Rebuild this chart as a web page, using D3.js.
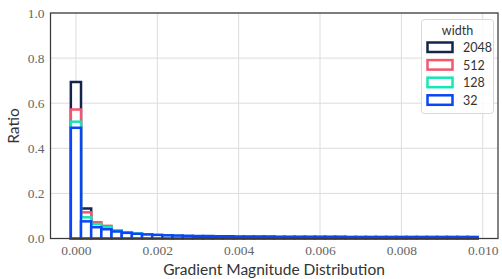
<!DOCTYPE html>
<html><head><meta charset="utf-8">
<script src="https://cdn.jsdelivr.net/npm/d3@7"></script>
<style>body{margin:0;background:#fff}svg{display:block}
.tk text{font-family:"Liberation Serif","DejaVu Serif",serif !important;}
</style>
</head><body>
<svg id="c" width="502" height="279"></svg>
<script>
// bins: 40 bins of width 0.00025 centered on 0, 0.00025, ...
const binWidth = 0.00025;
const binCenters = d3.range(40).map(i => +(i * binWidth).toFixed(6));
const seriesNames = ["2048", "512", "128", "32"];
const colors = ["#14244b", "#f5566c", "#14e6b4", "#0a46f5"];
const w2048 = [0.694,0.133,0.064,0.042,0.026,0.016,0.011,0.008,0.006,0.005,0.004,0.003,0.003,0.002,0.002,0.002,0.002,0.001,0.001,0.001,0.001,0.001,0.001,0.001,0.001,0.001,0.001,0.001,0.001,0.001,0.001,0.001,0.001,0.001,0.001,0.001,0.001,0.001,0.001,0.001];
const w512  = [0.572,0.116,0.072,0.056,0.036,0.026,0.019,0.014,0.011,0.009,0.007,0.006,0.005,0.005,0.004,0.004,0.003,0.003,0.003,0.003,0.002,0.002,0.002,0.002,0.002,0.002,0.002,0.002,0.002,0.002,0.002,0.002,0.002,0.002,0.002,0.002,0.002,0.002,0.002,0.002];
const w128  = [0.518,0.094,0.064,0.050,0.036,0.028,0.022,0.018,0.015,0.013,0.011,0.010,0.009,0.008,0.007,0.007,0.006,0.006,0.005,0.005,0.005,0.005,0.004,0.004,0.004,0.004,0.004,0.004,0.004,0.003,0.003,0.003,0.003,0.003,0.003,0.003,0.003,0.003,0.003,0.003];
const w32   = [0.491,0.076,0.050,0.041,0.031,0.025,0.021,0.018,0.016,0.014,0.013,0.012,0.011,0.011,0.010,0.010,0.009,0.009,0.009,0.009,0.008,0.008,0.008,0.008,0.008,0.008,0.008,0.007,0.007,0.007,0.007,0.007,0.007,0.007,0.007,0.007,0.007,0.007,0.007,0.007];
const seriesValues = [w2048, w512, w128, w32];
const xTicks = [0, 0.002, 0.004, 0.006, 0.008, 0.010];
const yTicks = [0, 0.2, 0.4, 0.6, 0.8, 1.0];

const svg = d3.select("#c");
const L = 50.5, R = 498, T = 13, B = 238.5;
const x = d3.scaleLinear().domain([-0.000625, 0.010375]).range([L, R]);
const y = d3.scaleLinear().domain([0, 1]).range([B, T]);

// grid
const g = svg.append("g");
g.selectAll(".gx").data(xTicks).join("line")
  .attr("x1", d => x(d)).attr("x2", d => x(d)).attr("y1", T).attr("y2", B)
  .attr("stroke", "#dcdcdc").attr("stroke-width", 1);
g.selectAll(".gy").data(yTicks).join("line")
  .attr("y1", d => y(d)).attr("y2", d => y(d)).attr("x1", L).attr("x2", R)
  .attr("stroke", "#dcdcdc").attr("stroke-width", 1);

// bars
seriesValues.forEach((vals, si) => {
  svg.append("g").selectAll("rect").data(vals).join("rect")
    .attr("x", (d, i) => x(binCenters[i] - binWidth / 2))
    .attr("width", (d, i) => x(binCenters[i] + binWidth / 2) - x(binCenters[i] - binWidth / 2))
    .attr("y", d => y(d))
    .attr("height", d => y(0) - y(d))
    .attr("fill", "#fff")
    .attr("stroke", colors[si])
    .attr("stroke-width", 2.5);
});

// spines
svg.append("rect").attr("x", L).attr("y", T).attr("width", R - L).attr("height", B - T)
  .attr("fill", "none").attr("stroke", "#3a3a3a").attr("stroke-width", 1.25);

// x axis
const xAxis = d3.axisBottom(x).tickValues(xTicks).tickFormat(d3.format(".3f")).tickSize(0).tickPadding(7);
const xa = svg.append("g").attr("class", "tk").attr("transform", `translate(0,${B})`).call(xAxis)
  .attr("font-family", null);
xa.select(".domain").remove();
xa.selectAll("text").attr("font-size", 13.5).attr("fill", "#666");

const yAxis = d3.axisLeft(y).tickValues(yTicks).tickFormat(d3.format(".1f")).tickSize(0).tickPadding(6);
const ya = svg.append("g").attr("class", "tk").attr("transform", `translate(${L},0)`).call(yAxis)
  .attr("font-family", null);
ya.select(".domain").remove();
ya.selectAll("text").attr("font-size", 13.5).attr("fill", "#666");

svg.append("text").attr("x", 274).attr("y", 275).attr("text-anchor", "middle")
  .attr("font-family", "Lato, sans-serif").attr("font-size", 15.5).attr("fill", "#333")
  .text("Gradient Magnitude Distribution");
svg.append("text").attr("transform", "translate(19,126) rotate(-90)").attr("text-anchor", "middle")
  .attr("font-family", "Lato, sans-serif").attr("font-size", 15.5).attr("fill", "#333")
  .text("Ratio");

// legend
const lg = svg.append("g");
lg.append("rect").attr("x", 421.5).attr("y", 19.5).attr("width", 72).attr("height", 94).attr("rx", 3)
  .attr("fill", "#fff").attr("fill-opacity", 0.85).attr("stroke", "#d8d8d8");
lg.append("text").attr("x", 457.5).attr("y", 35).attr("text-anchor", "middle")
  .attr("font-family", "Lato, sans-serif").attr("font-size", 12.5).attr("fill", "#333").text("width");
seriesNames.forEach((n, i) => {
  const yy = 47.5 + i * 17.6;
  lg.append("rect").attr("x", 427.5).attr("y", yy - 5).attr("width", 25).attr("height", 9.5)
    .attr("fill", "#fff").attr("stroke", colors[i]).attr("stroke-width", 2.5);
  lg.append("text").attr("x", 463).attr("y", yy + 4.5)
    .attr("font-family", "Lato, sans-serif").attr("font-size", 12.5).attr("fill", "#333").text(n);
});
</script>
</body></html>
